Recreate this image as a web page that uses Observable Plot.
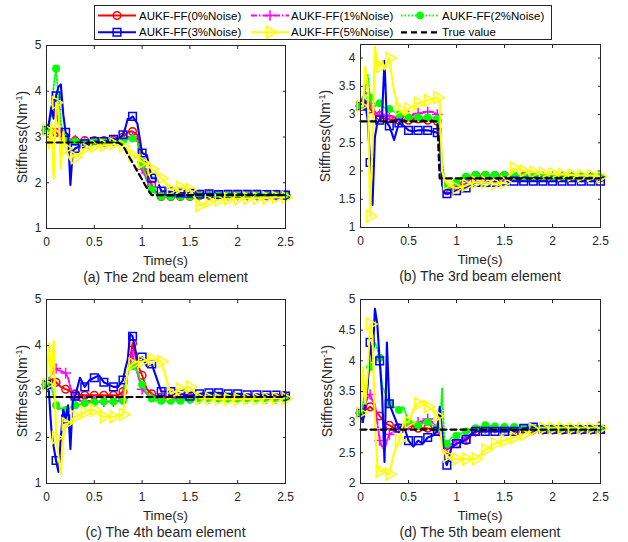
<!DOCTYPE html>
<html><head><meta charset="utf-8">
<script src="https://cdn.jsdelivr.net/npm/d3@7"></script>
<script src="https://cdn.jsdelivr.net/npm/@observablehq/plot@0.6"></script>
<style>
body{margin:0;background:#fff;}
#root{position:relative;width:628px;height:542px;font-family:"Liberation Sans",Arial,sans-serif;color:#262626;overflow:hidden;background:#fff;}
.pan{position:absolute;}
.lbl{position:absolute;font-size:13.5px;white-space:nowrap;transform:translate(-50%,-50%);line-height:1;}
.cap{position:absolute;font-size:14px;white-space:nowrap;transform:translate(-50%,-50%);line-height:1;}
.ylbl{position:absolute;font-size:14px;white-space:nowrap;transform:translate(-50%,-50%) rotate(-90deg);line-height:1;}
.ylbl sup{font-size:9px;}
</style></head><body><div id="root"></div>
<script>
// ---------- data ----------
const time = [0,0.025,0.05,0.075,0.1,0.125,0.15,0.175,0.2,0.225,0.25,0.275,0.3,
  0.35,0.4,0.45,0.5,0.55,0.6,0.65,0.7,0.75,0.8,
  0.825,0.85,0.875,
  0.9,0.95,1.0,1.05,1.1,1.15,1.2,
  1.3,1.4,1.5,1.6,1.7,1.8,1.9,2.0,2.1,2.2,2.3,2.4,2.5];
const seriesLabels = ["AUKF-FF(0%Noise)","AUKF-FF(1%Noise)","AUKF-FF(2%Noise)","AUKF-FF(3%Noise)","AUKF-FF(5%Noise)","True value"];
const seriesColors = ["#ff0000","#ff00ff","#00ff00","#0000ff","#ffff00","#000000"];
const xTicks = [0,0.5,1,1.5,2,2.5];
const yTicksA = [1,2,3,4,5];
const yTicksB = [1,1.5,2,2.5,3,3.5,4];
const yTicksC = [1,2,3,4,5];
const yTicksD = [2,2.5,3,3.5,4,4.5,5];
const captions = ["(a) The 2nd beam element","(b) The 3rd beam element","(c) The 4th beam element","(d) The 5th beam element"];

// (a) 2nd beam element
const a_n0 = [3.15,3.18,3.2,3.15,3.1,3.05,3.0,2.97,2.95,2.93,2.92,2.92,2.92, 2.92,2.92,2.92,2.92,2.92,2.92,2.93,2.93,2.95,3.0, 3.05,3.1,3.12, 3.12,3.05,2.45,2.2,1.95,1.78,1.7, 1.7,1.7,1.7,1.72,1.73,1.73,1.73,1.73,1.73,1.73,1.73,1.73,1.73];
const a_n1 = [3.15,3.3,3.5,3.8,3.6,3.3,3.1,3.0,2.95,2.93,2.92,2.92,2.93, 2.92,2.9,2.9,2.9,2.9,2.9,2.92,2.92,2.93,2.95, 2.98,3.0,3.0, 3.0,2.95,2.3,2.05,1.9,1.78,1.72, 1.72,1.73,1.73,1.73,1.73,1.73,1.73,1.73,1.73,1.73,1.73,1.73,1.73];
const a_n2 = [3.15,3.2,3.6,4.1,4.5,3.9,3.3,3.1,3.0,2.95,2.92,2.9,2.9, 2.9,2.88,2.88,2.9,2.9,2.9,2.9,2.9,2.9,2.92, 2.93,2.95,2.97, 2.97,2.9,2.4,2.1,1.85,1.75,1.7, 1.7,1.7,1.7,1.72,1.73,1.73,1.73,1.73,1.73,1.73,1.73,1.73,1.73];
const a_n3 = [3.15,3.3,3.65,3.4,3.9,4.1,4.15,3.5,3.1,3.05,1.95,2.7,2.75, 2.8,2.85,2.85,2.9,2.9,2.9,2.92,2.95,2.95,3.05, 3.2,3.4,3.4, 3.45,3.3,2.65,2.6,2.1,2.1,1.82, 1.8,1.78,1.77,1.75,1.76,1.74,1.75,1.75,1.75,1.75,1.74,1.74,1.73];
const a_n5 = [3.15,2.75,3.3,2.1,3.75,3.6,2.3,3.1,2.75,2.6,2.5,2.6,2.55, 2.65,2.75,2.78,2.8,2.8,2.82,2.83,2.85,2.82,2.8, 2.75,2.7,2.65, 2.6,2.55,2.45,2.4,2.3,2.2,2.1, 1.85,1.9,1.85,1.5,1.6,1.62,1.65,1.65,1.66,1.66,1.67,1.68,1.68];
const a_true = [2.88,2.88,2.88,2.88,2.88,2.88,2.88,2.88,2.88,2.88,2.88,2.88,2.88, 2.88,2.88,2.88,2.88,2.88,2.88,2.88,2.88,2.88,2.81, 2.72,2.62,2.53, 2.44,2.25,2.07,1.88,1.73,1.73,1.73, 1.73,1.73,1.73,1.73,1.73,1.73,1.73,1.73,1.73,1.73,1.73,1.73,1.73];

// (b) 3rd beam element
const b_n0 = [3.15,3.2,3.25,3.2,3.1,3.05,3.0,3.0,2.98,2.95,2.93,2.92,2.92, 2.9,2.9,2.9,2.9,2.92,2.92,2.9,2.9,2.9,2.88, 2.6,2.0,1.7, 1.65,1.68,1.72,1.8,1.88,1.9,1.92, 1.92,1.92,1.92,1.9,1.9,1.9,1.89,1.88,1.88,1.88,1.88,1.88,1.88];
const b_n1 = [3.15,3.3,3.4,3.35,3.2,3.1,3.05,3.0,3.0,2.98,2.97,2.97,2.97, 2.95,2.95,2.97,2.98,3.0,3.02,3.03,3.05,3.05,3.0, 2.7,2.0,1.72, 1.68,1.7,1.75,1.8,1.85,1.88,1.9, 1.9,1.9,1.9,1.9,1.9,1.9,1.9,1.9,1.9,1.9,1.9,1.9,1.9];
const b_n2 = [3.15,3.25,3.45,3.7,3.3,3.1,3.15,3.2,3.2,3.15,3.12,3.1,3.1, 3.05,3.0,2.98,2.95,2.95,2.95,2.95,2.95,2.95,2.92, 2.8,2.2,1.8, 1.72,1.75,1.8,1.88,1.9,1.92,1.93, 1.93,1.93,1.93,1.92,1.9,1.9,1.9,1.9,1.9,1.9,1.9,1.9,1.9];
const b_n3 = [3.15,3.3,3.2,2.9,2.15,1.4,2.6,2.85,2.9,3.0,3.95,2.85,2.8, 2.55,2.85,2.8,2.72,2.7,2.72,2.72,2.72,2.7,2.68, 2.55,1.75,1.62, 1.6,1.62,1.65,1.68,1.7,1.75,1.8, 1.8,1.8,1.82,1.82,1.82,1.82,1.82,1.82,1.82,1.82,1.82,1.82,1.82];
const b_n5 = [3.15,3.15,3.85,3.5,1.2,2.5,4.2,3.9,3.85,3.95,3.8,3.9,4.0, 3.4,3.1,3.0,3.1,3.15,3.2,3.22,3.25,3.28,3.3, 3.25,2.0,1.85, 1.78,1.72,1.7,1.72,1.75,1.78,1.8, 1.8,1.78,1.8,2.05,2.0,1.98,1.96,1.95,1.94,1.93,1.92,1.92,1.9];
const b_true = [2.88,2.88,2.88,2.88,2.88,2.88,2.88,2.88,2.88,2.88,2.88,2.88,2.88, 2.88,2.88,2.88,2.88,2.88,2.88,2.88,2.88,2.88,2.88, 1.87,1.87,1.87, 1.87,1.87,1.87,1.87,1.87,1.87,1.87, 1.87,1.87,1.87,1.87,1.87,1.87,1.87,1.87,1.87,1.87,1.87,1.87,1.87];

// (c) 4th beam element
const c_n0 = [3.15,3.2,3.28,3.25,3.2,3.15,3.1,3.08,3.05,3.03,3.0,2.98,2.95, 2.93,2.92,2.92,2.92,2.92,2.92,2.92,2.92,2.92,3.0, 3.2,3.4,3.7, 4.05,3.6,3.35,3.05,2.95,2.9,2.88, 2.87,2.87,2.87,2.87,2.87,2.87,2.87,2.87,2.87,2.87,2.87,2.87,2.87];
const c_n1 = [3.15,3.25,3.35,3.45,3.5,3.45,3.45,3.42,3.4,3.3,3.1,2.95,2.85, 2.8,2.8,2.78,2.78,2.78,2.78,2.78,2.78,2.8,2.85, 3.2,3.4,3.6, 3.8,3.4,3.05,2.95,2.88,2.85,2.85, 2.85,2.85,2.85,2.85,2.85,2.85,2.85,2.85,2.85,2.85,2.85,2.85,2.85];
const c_n2 = [3.15,3.3,3.1,2.9,2.7,2.6,2.65,2.6,2.6,2.62,2.65,2.68,2.7, 2.72,2.75,2.76,2.77,2.78,2.78,2.78,2.78,2.78,2.8, 3.2,3.4,3.55, 3.55,3.45,3.15,2.95,2.85,2.8,2.8, 2.8,2.8,2.82,2.84,2.85,2.85,2.85,2.85,2.85,2.85,2.85,2.85,2.85];
const c_n3 = [3.15,3.0,2.2,1.8,1.5,1.25,2.0,2.6,2.4,2.7,1.75,2.8,2.9, 3.3,3.1,3.25,3.3,3.35,3.2,3.15,3.1,3.1,3.25, 3.5,3.7,4.25, 4.2,3.7,3.75,3.55,3.6,3.3,3.0, 3.0,2.95,2.9,2.95,2.97,2.97,2.95,2.95,2.93,2.93,2.92,2.92,2.9];
const c_n5 = [3.15,4.05,3.3,4.1,2.0,1.6,1.2,2.0,2.3,2.3,2.35,2.4,2.45, 2.5,2.55,2.6,2.6,2.5,2.45,2.45,2.45,2.48,2.5, 3.0,3.5,3.55, 3.6,3.65,3.65,3.68,3.7,3.68,3.65, 2.95,3.05,3.1,2.85,2.85,2.83,2.83,2.83,2.84,2.84,2.85,2.85,2.85];
const c_true = [2.88,2.88,2.88,2.88,2.88,2.88,2.88,2.88,2.88,2.88,2.88,2.88,2.88, 2.88,2.88,2.88,2.88,2.88,2.88,2.88,2.88,2.88,2.88, 2.88,2.88,2.88, 2.88,2.88,2.88,2.88,2.88,2.88,2.88, 2.88,2.88,2.88,2.88,2.88,2.88,2.88,2.88,2.88,2.88,2.88,2.88,2.88];

// (d) 5th beam element
const d_n0 = [3.15,3.18,3.2,3.22,3.25,3.22,3.2,3.15,3.1,3.05,3.0,2.97,2.95, 2.9,2.9,2.92,2.95,2.93,2.9,2.9,2.9,2.88,2.85, 2.82,2.75,2.6, 2.55,2.6,2.65,2.68,2.7,2.78,2.85, 2.9,2.9,2.9,2.88,2.88,2.88,2.88,2.88,2.88,2.88,2.88,2.88,2.88];
const d_n1 = [3.15,3.25,3.3,3.4,3.45,3.35,3.3,3.0,2.7,2.6,2.55,2.7,2.8, 2.85,2.9,2.92,2.95,2.98,3.0,3.02,3.05,3.0,2.9, 2.8,2.7,2.6, 2.6,2.65,2.7,2.72,2.75,2.8,2.85, 2.9,2.9,2.9,2.88,2.88,2.88,2.88,2.88,2.88,2.88,2.88,2.88,2.88];
const d_n2 = [3.15,3.3,3.5,3.7,3.9,4.1,4.3,4.2,4.05,3.6,3.5,3.4,3.3, 3.25,3.2,3.25,3.0,3.0,2.95,2.98,3.0,2.95,2.9, 2.9,3.55,2.6, 2.65,2.75,2.78,2.82,2.85,2.88,2.9, 2.95,2.93,2.92,2.92,2.9,2.9,2.9,2.9,2.9,2.9,2.9,2.9,2.9];
const d_n3 = [3.15,3.0,3.3,3.6,4.3,4.0,4.85,4.6,4.0,3.45,2.35,4.3,3.3, 3.1,2.9,2.95,2.7,2.6,2.7,2.65,2.75,2.78,2.85, 3.25,2.85,2.4, 2.3,2.6,2.65,2.68,2.72,2.8,2.85, 2.85,2.85,2.85,2.85,2.9,2.92,2.88,2.88,2.88,2.88,2.88,2.88,2.88];
const d_n5 = [3.15,3.9,3.3,3.8,4.6,4.4,3.0,2.3,2.2,2.2,2.2,2.15,2.15, 2.5,2.7,3.0,3.0,3.2,3.3,3.35,3.25,3.2,3.1, 3.05,2.55,2.5, 2.45,2.4,2.4,2.4,2.4,2.4,2.4, 2.55,2.65,2.7,2.75,2.8,2.88,2.9,2.9,2.9,2.9,2.9,2.9,2.9];
const d_true = [2.88,2.88,2.88,2.88,2.88,2.88,2.88,2.88,2.88,2.88,2.88,2.88,2.88, 2.88,2.88,2.88,2.88,2.88,2.88,2.88,2.88,2.88,2.88, 2.88,2.88,2.88, 2.88,2.88,2.88,2.88,2.88,2.88,2.88, 2.88,2.88,2.88,2.88,2.88,2.88,2.88,2.88,2.88,2.88,2.88,2.88,2.88];

// ---------- presentation ----------
const styleDefs = [
  {width:1.9, dash:null,        symbol:"circle",   r:3.8, filled:false},
  {width:1.9, dash:"6,2,1.5,2", symbol:"plus",     r:3.5, filled:false},
  {width:1.9, dash:"1.5,2",     symbol:"circle",   r:3.2, filled:true},
  {width:2.1, dash:null,        symbol:"square",   r:4.3, filled:false},
  {width:2.1, dash:null,        symbol:"triangle", r:4.4, filled:false, rotate:90},
  {width:2.2, dash:"6,4",       symbol:null}
];
const onTenth = t => Math.abs(t * 10 - Math.round(t * 10)) < 1e-6;
const fmt = d => String(d);
const root = document.getElementById("root");

function addPanel(p) {
  const m = {l:46, r:15, t:12, b:24};
  const width = p.fx1 - p.fx0 + m.l + m.r;
  const height = p.fy1 - p.fy0 + m.t + m.b;
  const marks = [];
  styleDefs.forEach((s, k) => {
    const vals = p.series[k];
    const data = time.map((t, i) => ({t, v: vals[i]}));
    const color = seriesColors[k];
    const lo = {x: "t", y: "v", stroke: color, strokeWidth: s.width};
    if (s.dash) lo.strokeDasharray = s.dash;
    marks.push(Plot.line(data, lo));
    if (s.symbol) {
      marks.push(Plot.dot(data.filter(d => onTenth(d.t)), {
        x: "t", y: "v", symbol: s.symbol, r: s.r, stroke: color,
        fill: s.filled ? color : "none", strokeWidth: 1.5, rotate: s.rotate || 0
      }));
    }
  });
  marks.push(Plot.frame({stroke: "#262626", strokeWidth: 1}));
  marks.push(Plot.axisX(xTicks, {anchor: "bottom", tickSize: 0, tickPadding: 9, tickFormat: fmt, label: null}));
  marks.push(Plot.axisX(xTicks, {anchor: "bottom", tickSize: 3, fill: "none", dy: -3, label: null}));
  marks.push(Plot.axisX(xTicks, {anchor: "top", tickSize: 3, fill: "none", dy: 3, label: null}));
  marks.push(Plot.axisY(p.yTicks, {anchor: "left", tickSize: 0, tickPadding: 5, tickFormat: fmt, label: null}));
  marks.push(Plot.axisY(p.yTicks, {anchor: "left", tickSize: 3, fill: "none", dx: 3, label: null}));
  marks.push(Plot.axisY(p.yTicks, {anchor: "right", tickSize: 3, fill: "none", dx: -3, label: null}));
  const svg = Plot.plot({
    width, height,
    marginLeft: m.l, marginRight: m.r, marginTop: m.t, marginBottom: m.b,
    x: {domain: [0, 2.5]},
    y: {domain: p.yDomain},
    style: {background: "transparent", fontFamily: "'Liberation Sans', Arial, sans-serif", fontSize: "12px", color: "#262626"},
    marks
  });
  const div = document.createElement("div");
  div.className = "pan";
  div.style.left = (p.fx0 - m.l) + "px";
  div.style.top = (p.fy0 - m.t) + "px";
  div.appendChild(svg);
  root.appendChild(div);

  const cx = (p.fx0 + p.fx1) / 2;
  const yl = document.createElement("div");
  yl.className = "ylbl";
  yl.innerHTML = "Stiffness(Nm<sup>-1</sup>)";
  yl.style.left = p.ylx + "px";
  yl.style.top = ((p.fy0 + p.fy1) / 2) + "px";
  root.appendChild(yl);
  const xl = document.createElement("div");
  xl.className = "lbl";
  xl.textContent = "Time(s)";
  xl.style.left = cx + "px";
  xl.style.top = (p.fy1 + 32.5) + "px";
  root.appendChild(xl);
  const cp = document.createElement("div");
  cp.className = "cap";
  cp.textContent = p.caption;
  cp.style.left = cx + "px";
  cp.style.top = (p.fy1 + 48.5) + "px";
  root.appendChild(cp);
}

addPanel({fx0:46, fx1:285, fy0:45, fy1:228, yDomain:[1,5], yTicks:yTicksA, ylx:21.7, caption:captions[0],
  series:[a_n0,a_n1,a_n2,a_n3,a_n5,a_true]});
addPanel({fx0:360, fx1:600, fy0:44, fy1:227, yDomain:[1,4.24], yTicks:yTicksB, ylx:325, caption:captions[1],
  series:[b_n0,b_n1,b_n2,b_n3,b_n5,b_true]});
addPanel({fx0:46, fx1:285, fy0:299, fy1:483, yDomain:[1,5], yTicks:yTicksC, ylx:21.7, caption:captions[2],
  series:[c_n0,c_n1,c_n2,c_n3,c_n5,c_true]});
addPanel({fx0:360, fx1:600, fy0:299, fy1:483, yDomain:[2,5], yTicks:yTicksD, ylx:326.5, caption:captions[3],
  series:[d_n0,d_n1,d_n2,d_n3,d_n5,d_true]});

// ---------- legend ----------
(function legend() {
  const lx = 94, ly = 5, lw = 458, lh = 35;
  const svg = d3.select(root).append("svg")
    .attr("width", lw).attr("height", lh)
    .style("position", "absolute").style("left", lx + "px").style("top", ly + "px");
  svg.append("rect").attr("x", 0.5).attr("y", 0.5).attr("width", lw - 1).attr("height", lh - 1)
    .attr("fill", "#fff").attr("stroke", "#262626").attr("stroke-width", 1);
  const colLine = [4, 157, 307], colText = [45, 197, 348], rowY = [10.5, 27.3];
  const symMap = {circle: d3.symbolCircle, plus: d3.symbolPlus, square: d3.symbolSquare, triangle: d3.symbolTriangle};
  seriesLabels.forEach((lab, k) => {
    const col = k % 3, row = Math.floor(k / 3);
    const s = styleDefs[k], color = seriesColors[k];
    const x0 = colLine[col], y = rowY[row];
    const g = svg.append("g");
    g.append("line").attr("x1", x0).attr("x2", x0 + 38).attr("y1", y).attr("y2", y)
      .attr("stroke", color).attr("stroke-width", s.width).attr("stroke-dasharray", s.dash || null);
    if (s.symbol) {
      g.append("path")
        .attr("d", d3.symbol(symMap[s.symbol], Math.PI * s.r * s.r)())
        .attr("transform", `translate(${x0 + 19},${y}) rotate(${s.rotate || 0})`)
        .attr("fill", s.filled ? color : "none").attr("stroke", color).attr("stroke-width", 1.5);
    }
    g.append("text").attr("x", colText[col]).attr("y", y).attr("dy", "0.35em")
      .attr("font-size", "11.5px").attr("font-family", "'Liberation Sans', Arial, sans-serif")
      .attr("fill", "#000").text(lab);
  });
})();
</script>
</body></html>
